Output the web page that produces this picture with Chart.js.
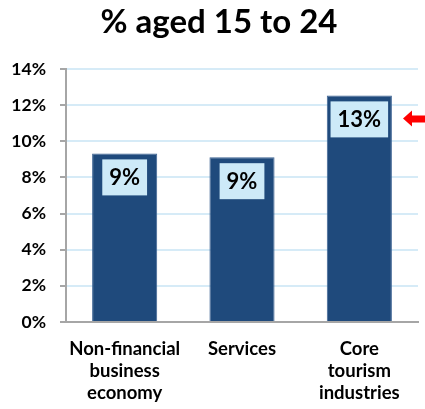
<!DOCTYPE html>
<html>
<head>
<meta charset="utf-8">
<script src="https://cdn.jsdelivr.net/npm/chart.js@4"></script>
<style>
  html, body { margin: 0; padding: 0; background: #fff; }
  #wrap { width: 425px; height: 409px; }
</style>
</head>
<body>
<div id="wrap"><canvas id="age-canvas"></canvas></div>
<script>
// share of workers aged 15 to 24, by sector
let sectors = [["Non-financial", "business", "economy"], "Services", ["Core", "tourism", "industries"]];
let youngShare = [9.33, 9.12, 12.54];
let chartTitle = '% aged 15 to 24';
let highlightIndex = 2;

var ageChart

// title sits a little right of the canvas centre, so it is drawn by hand
const headline = {
  id: 'headline',
  afterDraw(chart) {
    const ctx = chart.ctx;
    ctx.save();
    ctx.font = 'bold 33px Lato';
    ctx.fillStyle = '#000';
    ctx.textAlign = 'center';
    ctx.textBaseline = 'middle';
    ctx.fillText(chartTitle, 219, 22);
    ctx.restore();
  }
};

// light blue box with the rounded percentage near the top of each bar
const valueBoxes = {
  id: 'valueBoxes',
  afterDatasetsDraw(chart) {
    const ctx = chart.ctx;
    const meta = chart.getDatasetMeta(0);
    ctx.save();
    ctx.font = 'bold 22px Lato';
    ctx.textAlign = 'center';
    ctx.textBaseline = 'middle';
    meta.data.forEach((bar, i) => {
      const text = Math.round(youngShare[i]) + '%';
      const w = ctx.measureText(text).width + 14;
      const h = 36;
      const top = bar.y + 6;
      ctx.fillStyle = '#cdeaf8';
      ctx.fillRect(bar.x - w / 2, top, w, h);
      ctx.fillStyle = '#000';
      ctx.fillText(text, bar.x, top + h / 2 + 1);

      if (i == highlightIndex) {
        // red arrow pointing back at the highlighted bar
        const ay = top + h / 2 - 1;
        const ax = chart.chartArea.right - 15;
        ctx.fillStyle = '#ff0000';
        ctx.beginPath();
        ctx.moveTo(ax, ay);
        ctx.lineTo(ax + 9, ay - 8);
        ctx.lineTo(ax + 9, ay - 3);
        ctx.lineTo(ax + 22, ay - 3);
        ctx.lineTo(ax + 22, ay + 4);
        ctx.lineTo(ax + 9, ay + 4);
        ctx.lineTo(ax + 9, ay + 8);
        ctx.closePath();
        ctx.fill();
      }
    });
    ctx.restore();
  }
};

main();

function main() {
  ageChart = setAgeChart();
}

function setAgeChart() {
  var ctxAge = document.getElementById("age-canvas");
  return new Chart(ctxAge, {
    type: 'bar',
    data: {
      labels: sectors,
      datasets: [
        {
          label: chartTitle,
          backgroundColor: '#1f4a7c',
          borderColor: '#3d6393',
          borderWidth: 1,
          data: youngShare,
          barPercentage: 0.555,
          categoryPercentage: 1.0
        }
      ]
    },
    plugins: [valueBoxes, headline],
    options: {
      responsive: true,
      maintainAspectRatio: false,
      animation: false,
      layout: {
        padding: { left: 0, right: 7, top: 69, bottom: 6 }
      },
      plugins: {
        legend: { display: false },
        tooltip: { enabled: false },
        title: { display: false }
      },
      scales: {
        x: {
          afterFit: (scale) => { scale.height = 81; },
          grid: { display: false },
          border: { display: true, color: '#a6a6a6', width: 2 },
          ticks: {
            color: '#000',
            font: { family: 'Lato', size: 18.5, weight: 'bold' },
            maxRotation: 0,
            padding: 8
          }
        },
        y: {
          min: 0,
          max: 14,
          afterFit: (scale) => { scale.width = 66; },
          border: { display: true, color: '#a6a6a6', width: 2 },
          grid: {
            color: '#d6ebf7',
            lineWidth: 2,
            tickLength: 6,
            tickColor: '#a6a6a6'
          },
          ticks: {
            stepSize: 2,
            color: '#000',
            padding: 14,
            font: { family: 'Lato', size: 17.5, weight: 'bold' },
            callback: (v) => v + '%'
          }
        }
      }
    }
  });
}
</script>
</body>
</html>
